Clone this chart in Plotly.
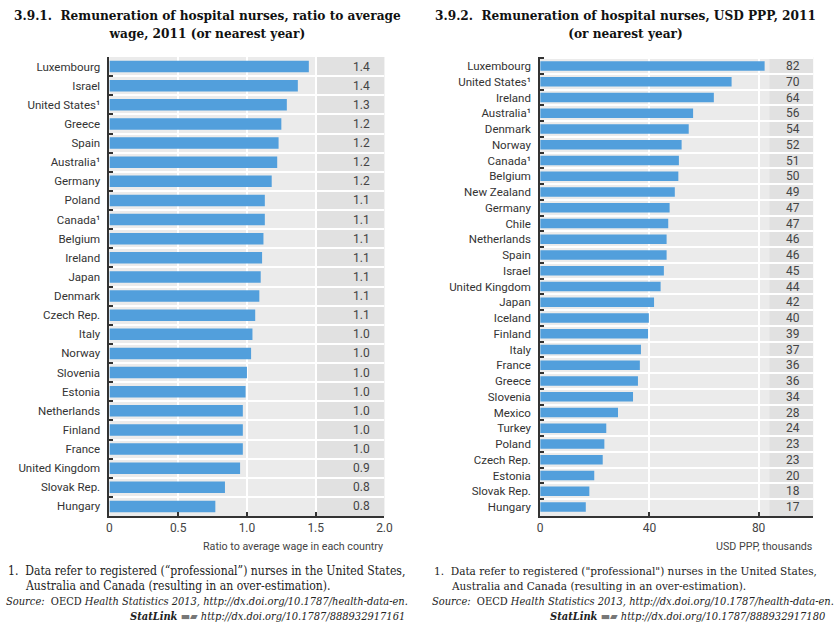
import plotly.graph_objects as go

# ---------------- Data ----------------
left_countries = ["Luxembourg", "Israel", "United States¹", "Greece", "Spain", "Australia¹",
                  "Germany", "Poland", "Canada¹", "Belgium", "Ireland", "Japan", "Denmark",
                  "Czech Rep.", "Italy", "Norway", "Slovenia", "Estonia", "Netherlands",
                  "Finland", "France", "United Kingdom", "Slovak Rep.", "Hungary"]
left_values = [1.45, 1.37, 1.29, 1.25, 1.23, 1.22, 1.18, 1.13, 1.13, 1.12, 1.11, 1.10, 1.09,
               1.06, 1.04, 1.03, 1.00, 0.99, 0.97, 0.97, 0.97, 0.95, 0.84, 0.77]
left_labels = ["1.4", "1.4", "1.3", "1.2", "1.2", "1.2", "1.2", "1.1", "1.1", "1.1", "1.1",
               "1.1", "1.1", "1.1", "1.0", "1.0", "1.0", "1.0", "1.0", "1.0", "1.0", "0.9",
               "0.8", "0.8"]

right_countries = ["Luxembourg", "United States¹", "Ireland", "Australia¹", "Denmark", "Norway",
                   "Canada¹", "Belgium", "New Zealand", "Germany", "Chile", "Netherlands",
                   "Spain", "Israel", "United Kingdom", "Japan", "Iceland", "Finland", "Italy",
                   "France", "Greece", "Slovenia", "Mexico", "Turkey", "Poland", "Czech Rep.",
                   "Estonia", "Slovak Rep.", "Hungary"]
right_values = [82.2, 70.1, 63.6, 56.0, 54.4, 51.8, 50.8, 50.6, 49.3, 47.4, 46.9, 46.3, 46.3,
                45.3, 44.1, 41.7, 39.8, 39.5, 36.9, 36.5, 35.8, 34.0, 28.5, 24.2, 23.5, 22.9,
                19.8, 18.0, 16.7]
right_labels = ["82", "70", "64", "56", "54", "52", "51", "50", "49", "47", "47", "46", "46",
                "45", "44", "42", "40", "39", "37", "36", "36", "34", "28", "24", "23", "23",
                "20", "18", "17"]

left_ticks = [0, 0.5, 1.0, 1.5, 2.0]
left_ticktext = ["0", "0.5", "1.0", "1.5", "2.0"]
right_ticks = [0, 40, 80]
right_ticktext = ["0", "40", "80"]

# ---------------- Style ----------------
W, H = 838, 632
BAR = "#529fdc"
BG = "#ebebeb"
COL_BG = "#e1e1e1"
AX = "#333333"
SANS = "Liberation Sans Narrow, Arial Narrow, Roboto, sans-serif"
SERIF = "DejaVu Serif Condensed, DejaVu Serif, Liberation Serif, serif"

def px_x(p):
    return p / W

def px_y(p):
    return 1 - p / H

fig = go.Figure()

fig.add_trace(go.Bar(x=left_values, y=left_countries, orientation="h",
                     marker=dict(color=BAR, line=dict(width=0)), width=0.6,
                     xaxis="x", yaxis="y", showlegend=False, hoverinfo="x+y"))
fig.add_trace(go.Bar(x=right_values, y=right_countries, orientation="h",
                     marker=dict(color=BAR, line=dict(width=0)), width=0.6,
                     xaxis="x2", yaxis="y2", showlegend=False, hoverinfo="x+y"))

ydom = [px_y(516), px_y(57)]

common_x = dict(showgrid=True, gridcolor="white", gridwidth=2, zeroline=False,
                showline=True, linecolor=AX, linewidth=2, ticks="inside", ticklen=4,
                tickcolor=AX, tickwidth=1.5,
                tickfont=dict(family=SANS, size=12, color="#444"))
common_y = dict(type="category", autorange="reversed", showgrid=True, gridcolor="white",
                gridwidth=2, tickson="boundaries", ticks="inside", ticklen=4,
                tickcolor=AX, tickwidth=1.5, showline=True, linecolor=AX, linewidth=2,
                ticklabelstandoff=5,
                tickfont=dict(family=SANS, size=11.5, color="#333"))

fig.update_layout(
    width=W, height=H, margin=dict(l=0, r=0, t=0, b=0),
    paper_bgcolor="white", plot_bgcolor=BG, bargap=0.38,
    xaxis=dict(domain=[px_x(108), px_x(387)], anchor="y", range=[0, 2.0],
               tickvals=left_ticks, ticktext=left_ticktext, **common_x),
    yaxis=dict(domain=ydom, anchor="x", **common_y),
    xaxis2=dict(domain=[px_x(545), px_x(822)], anchor="y2", range=[0, 100],
                tickvals=right_ticks, ticktext=right_ticktext, **common_x),
    yaxis2=dict(domain=ydom, anchor="x2", **common_y),
)

# label columns
fig.add_shape(type="rect", xref="x", yref="y domain", x0=1.5, x1=2.0, y0=0, y1=1,
              fillcolor=COL_BG, line=dict(width=0), layer="below")
fig.add_shape(type="rect", xref="x2", yref="y2 domain", x0=84, x1=100, y0=0, y1=1,
              fillcolor=COL_BG, line=dict(width=0), layer="below")

ann = []
for c, t in zip(left_countries, left_labels):
    ann.append(dict(x=1.83, y=c, xref="x", yref="y", text=t, showarrow=False,
                    font=dict(family=SANS, size=12, color="#444")))
for c, t in zip(right_countries, right_labels):
    ann.append(dict(x=92.5, y=c, xref="x2", yref="y2", text=t, showarrow=False,
                    font=dict(family=SANS, size=12, color="#444")))

# axis titles
ann.append(dict(x=px_x(388), y=px_y(546), xref="paper", yref="paper", xanchor="right",
                yanchor="middle", text="Ratio to average wage in each country",
                showarrow=False, font=dict(family=SANS, size=10.7, color="#444")))
ann.append(dict(x=px_x(823), y=px_y(546), xref="paper", yref="paper", xanchor="right",
                yanchor="middle", text="USD PPP, thousands",
                showarrow=False, font=dict(family=SANS, size=10.7, color="#444")))

# titles
TF = dict(family=SERIF, size=13.5, color="#111")
ann.append(dict(x=px_x(207), y=px_y(5), xref="paper", yref="paper", xanchor="center",
                yanchor="top", align="center", showarrow=False, font=TF,
                text="<b>3.9.1.  Remuneration of hospital nurses, ratio to average</b><br><b>wage, 2011 (or nearest year)</b>"))
ann.append(dict(x=px_x(632), y=px_y(5), xref="paper", yref="paper", xanchor="center",
                yanchor="top", align="center", showarrow=False, font=TF,
                text="<b>3.9.2.  Remuneration of hospital nurses, USD PPP, 2011</b><br><b>(or nearest year)</b>"))

# footnotes
FS = dict(family=SERIF, size=11, color="#222")
def foot(x0, x_right, quote_l, quote_r, link, size):
    FF = dict(family=SERIF, size=size, color="#222")
    out = []
    out.append(dict(x=px_x(x0), y=px_y(571), xref="paper", yref="paper", xanchor="left",
                    yanchor="middle", showarrow=False, font=FF,
                    text=f"1.  Data refer to registered ({quote_l}professional{quote_r}) nurses in the United States,"))
    out.append(dict(x=px_x(x0 + 17), y=px_y(586), xref="paper", yref="paper", xanchor="left",
                    yanchor="middle", showarrow=False, font=FF,
                    text="Australia and Canada (resulting in an over-estimation)."))
    out.append(dict(x=px_x(x0 - 2), y=px_y(601), xref="paper", yref="paper", xanchor="left",
                    yanchor="middle", showarrow=False, font=FS,
                    text="<i>Source:</i>  OECD <i>Health Statistics 2013, http://dx.doi.org/10.1787/health-data-en.</i>"))
    out.append(dict(x=px_x(x_right), y=px_y(616), xref="paper", yref="paper", xanchor="right",
                    yanchor="middle", showarrow=False, font=FS,
                    text=f"<b><i>StatLink</i></b> <span style='color:#777'>▬▰</span> <i>http://dx.doi.org/10.1787/{link}</i>"))
    return out

ann += foot(3, 410, "“", "”", "888932917161", 12.1)
ann += foot(435, 836, "\"", "\"", "888932917180", 11.7)

fig.update_layout(annotations=ann)

fig.write_html("out.html")
